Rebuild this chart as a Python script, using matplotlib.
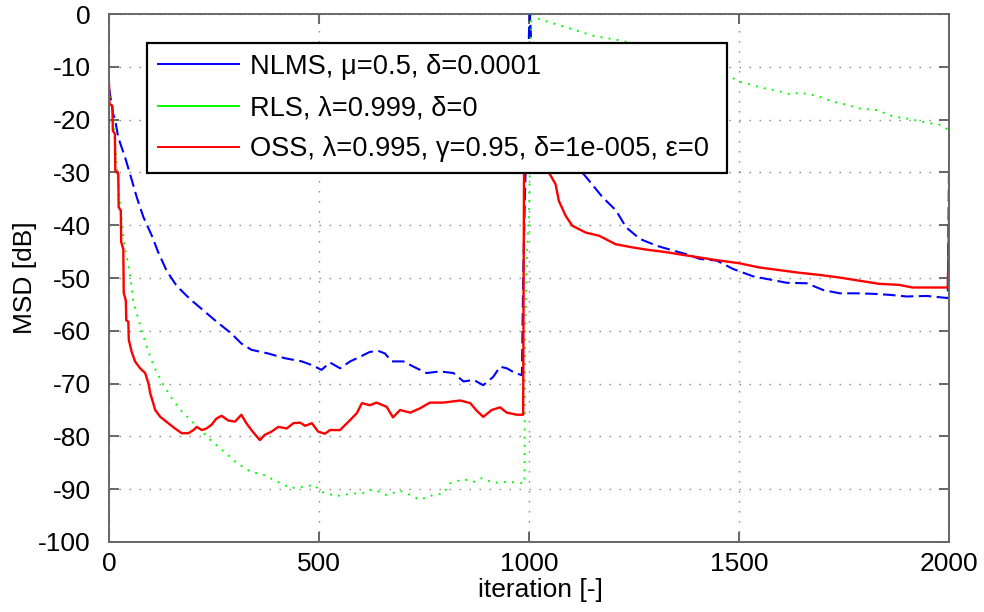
from matplotlib import pyplot as plt
from matplotlib.lines import Line2D

# MSD curves (iteration, dB)
nlms_x = [0, 10, 14, 22, 38, 50, 66, 82, 102, 117,
          137, 161, 193, 221, 252, 291, 315, 339, 379, 419,
          459, 483, 506, 526, 550, 574, 598, 621, 641, 657,
          673, 701, 725, 756, 788, 820, 844, 868, 891, 915,
          931, 947, 967, 983, 986, 990, 995, 1000, 1002, 1005,
          1010, 1030, 1060, 1100, 1135, 1175, 1207, 1231, 1264, 1304,
          1343, 1375, 1407, 1447, 1486, 1534, 1574, 1613, 1661, 1701,
          1740, 1780, 1820, 1860, 1899, 1947, 1997, 2000]
nlms_y = [-14, -19, -19.8, -23.4, -27.1, -30.3, -34.7, -38.5, -42, -45.1,
          -48.6, -51.5, -54, -55.9, -58, -60.5, -62.4, -63.6, -64.3, -65.2,
          -65.8, -66.5, -67.4, -66, -67.1, -65.8, -64.9, -64, -63.8, -64.3,
          -65.8, -65.8, -66.8, -68, -67.7, -68, -69.6, -69.3, -70.3, -68.7,
          -66.8, -67.1, -68, -68.4, -50, -35, -20, -3, 0, -5,
          -10, -18, -23, -27.5, -30.8, -34.7, -37.2, -40.4, -42.6, -43.9,
          -44.8, -45.5, -46.4, -46.7, -48.3, -49.7, -50.3, -50.9, -51, -52.3,
          -52.9, -52.9, -53, -53.2, -53.5, -53.4, -53.8, -27.7]

rls_x = [0, 8, 12, 18, 24, 30, 36, 44, 52, 58,
         68, 80, 92, 107, 127, 147, 170, 194, 218, 242,
         274, 305, 337, 369, 401, 433, 465, 489, 505, 540,
         574, 605, 629, 661, 693, 717, 740, 772, 796, 812,
         844, 868, 888, 915, 947, 979, 989, 991, 995, 1000,
         1003, 1005, 1025, 1088, 1152, 1224, 1300, 1400, 1474, 1502,
         1550, 1589, 1621, 1645, 1685, 1724, 1756, 1788, 1828, 1867,
         1907, 1947, 1979, 2000]
rls_y = [-14, -18, -21.8, -28.4, -34, -39.1, -43.6, -46.7, -50.5, -54.5,
         -57.3, -60.5, -63.6, -66.8, -69.9, -72.5, -75, -76.9, -78.8, -80.7,
         -82.9, -85.1, -86.7, -87.3, -88.6, -89.8, -89.5, -89.2, -90.5, -91.3,
         -90.9, -90.7, -90, -91.1, -90.3, -91.1, -92, -91.1, -90.8, -88.9,
         -88.1, -88.6, -87.9, -88.8, -88.6, -88.8, -88.9, -60, -45, -38,
         -25, 0, -1, -2.5, -4.1, -5.1, -7, -9.5, -11.7, -12.8,
         -13.9, -14.5, -15.2, -14.9, -15.5, -16.6, -17.2, -17.9, -18.2, -19.4,
         -19.9, -20.6, -21, -22]

oss_x = [0, 1, 8, 9, 14, 15, 22, 23, 28, 29,
         34, 35, 40, 41, 46, 47, 54, 62, 74, 86,
         94, 98, 110, 122, 141, 157, 173, 189, 201, 209,
         221, 232, 244, 256, 268, 284, 300, 315, 327, 339,
         359, 371, 387, 403, 423, 439, 455, 467, 483, 498,
         514, 526, 550, 574, 590, 602, 621, 637, 661, 676,
         693, 717, 740, 764, 796, 836, 860, 875, 891, 911,
         931, 947, 971, 986, 988, 990, 995, 1010, 1030, 1047,
         1063, 1071, 1087, 1103, 1135, 1167, 1206, 1246, 1286, 1326,
         1365, 1405, 1445, 1500, 1548, 1595, 1643, 1690, 1738, 1786,
         1833, 1881, 1913, 1997, 2000]
oss_y = [-13.3, -17, -17.4, -22.1, -22.7, -29.7, -30.3, -36.6, -37.2, -43.2,
         -44.5, -52.8, -54.3, -58, -58.3, -61.7, -64, -65.8, -67.1, -68,
         -70, -71.8, -75, -76.3, -77.5, -78.5, -79.4, -79.4, -78.8, -78.2,
         -78.8, -78.5, -77.8, -76.6, -76.1, -77, -77.2, -75.9, -77.5, -78.8,
         -80.7, -79.7, -79.1, -78.2, -78.5, -77.5, -77.4, -78, -77.5, -79.1,
         -79.5, -78.8, -78.8, -76.9, -75.6, -73.7, -74.1, -73.6, -74.4, -76.4,
         -75, -75.5, -74.7, -73.6, -73.6, -73.2, -73.7, -75.1, -76.3, -75,
         -74.5, -75.5, -75.9, -75.9, -30, -12, -10, -15, -23, -30,
         -32.2, -35.4, -38.2, -40.1, -41.4, -42, -43.6, -44.2, -44.7, -45.1,
         -45.6, -46.1, -46.6, -47.2, -48, -48.5, -49, -49.4, -49.9, -50.5,
         -51.1, -51.3, -51.8, -51.8, -38.7]

labels = ["NLMS, \u03bc=0.5, \u03b4=0.0001",
          "RLS, \u03bb=0.999, \u03b4=0",
          "OSS, \u03bb=0.995, \u03b3=0.95, \u03b4=1e-005, \u03b5=0"]

plt.rcParams["font.family"] = ["Liberation Sans", "DejaVu Sans"]
plt.rcParams["axes.unicode_minus"] = False

fig = plt.figure(figsize=(9.84, 6.12), dpi=100)
ax = fig.add_axes([0.1108, 0.1144, 0.8537, 0.8627])

ax.plot(nlms_x, nlms_y, color=(0, 0, 1), lw=1.5, dashes=(6, 2.6))
ax.plot(rls_x, rls_y, color=(0, 1, 0), lw=1.4, dashes=(1, 3.2))
ax.plot(oss_x, oss_y, color=(1, 0, 0), lw=1.7)

ax.set_xlim(0, 2000)
ax.set_ylim(-100, 0)
ax.set_xticks(range(0, 2001, 500))
ax.set_yticks(range(-100, 1, 10))
ax.grid(True, color="#808080", lw=1.0, linestyle=(0, (1, 6.2)))

for s in ax.spines.values():
    s.set_color("#666666")
    s.set_linewidth(1.4)
ax.tick_params(direction="in", length=7, width=1.4, color="#666666",
               top=True, right=True, labelsize=19, labelcolor="black")
ax.tick_params(axis="x", pad=7)
ax.tick_params(axis="y", pad=13)

ax.set_xlabel("iteration [-]", fontsize=19)
ax.set_ylabel("MSD [dB]", fontsize=19)
ax.xaxis.set_label_coords(0.513, -0.068)
ax.yaxis.set_label_coords(-0.0857, 0.5)

handles = [Line2D([], [], color=(0, 0, 1), lw=1.4),
           Line2D([], [], color=(0, 1, 0), lw=1.4),
           Line2D([], [], color=(1, 0, 0), lw=1.4)]
leg = ax.legend(handles, labels, loc="upper left", mode="expand",
                bbox_to_anchor=(0.045, 0.5, 0.6905, 0.445),
                borderaxespad=0, fontsize=19.6, handlelength=3.0, handletextpad=0.4,
                borderpad=0.4, labelspacing=0.56, fancybox=False, framealpha=1,
                edgecolor="black")
leg.get_frame().set_linewidth(1.6)

fig.savefig("out.png", dpi=100)
